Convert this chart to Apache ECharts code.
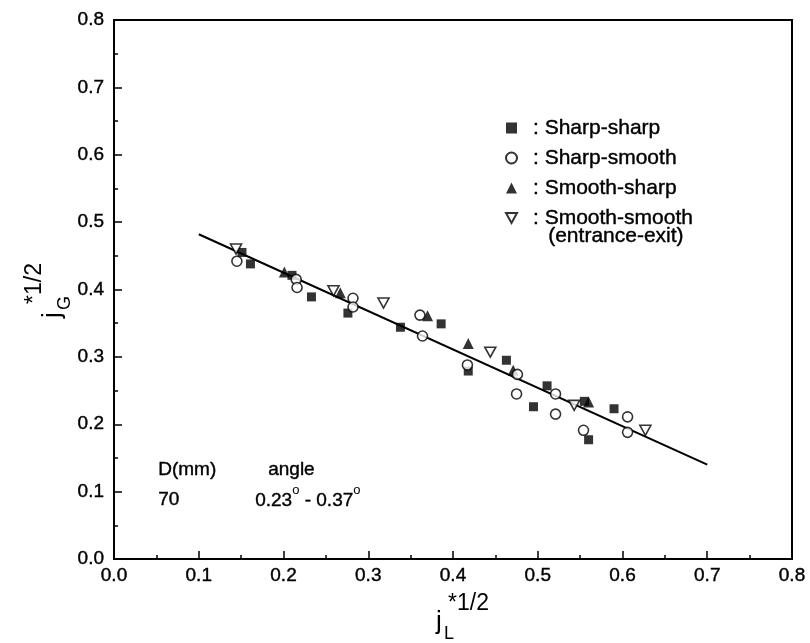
<!DOCTYPE html>
<html>
<head>
<meta charset="utf-8">
<script src="https://cdn.jsdelivr.net/npm/echarts/dist/echarts.min.js"></script>
<style>
html,body{margin:0;padding:0;background:#fff;}
#chart{width:810px;height:643px;}
</style>
</head>
<body>
<div id="chart"></div>
<script>
// ---- data ----
const seriesNames = ['Sharp-sharp', 'Sharp-smooth', 'Smooth-sharp', 'Smooth-smooth'];

const sharpSharpX = [0.151, 0.161, 0.210, 0.233, 0.276, 0.338, 0.386, 0.418, 0.463, 0.495, 0.511, 0.555, 0.560, 0.590];
const sharpSharpY = [0.455, 0.438, 0.421, 0.389, 0.365, 0.344, 0.349, 0.279, 0.295, 0.226, 0.257, 0.234, 0.177, 0.223];

const sharpSmoothX = [0.145, 0.215, 0.216, 0.282, 0.282, 0.361, 0.364, 0.417, 0.475, 0.476, 0.521, 0.521, 0.554, 0.606, 0.606];
const sharpSmoothY = [0.442, 0.415, 0.403, 0.387, 0.374, 0.362, 0.331, 0.288, 0.245, 0.274, 0.245, 0.215, 0.191, 0.211, 0.188];

const smoothSharpX = [0.201, 0.267, 0.370, 0.418, 0.471, 0.560];
const smoothSharpY = [0.426, 0.395, 0.361, 0.320, 0.280, 0.233];

const smoothSmoothX = [0.144, 0.259, 0.318, 0.444, 0.543, 0.627];
const smoothSmoothY = [0.460, 0.398, 0.380, 0.307, 0.228, 0.191];

const fitLineX = [0.1, 0.7];
const fitLineY = [0.482, 0.140];

const xTicks = [0.0, 0.1, 0.2, 0.3, 0.4, 0.5, 0.6, 0.7, 0.8];
const yTicks = [0.0, 0.1, 0.2, 0.3, 0.4, 0.5, 0.6, 0.7, 0.8];

// ---- build ----
function pairs(xs, ys) { return xs.map((x, i) => [x, ys[i]]); }

const FONT = '"Liberation Sans", Arial, sans-serif';
const downTri = 'path://M0,0 L10,0 L5,9 Z';

const chart = echarts.init(document.getElementById('chart'), null, {renderer: 'canvas'});

const labelStyle = {color: '#000', fontSize: 19, fontFamily: FONT, formatter: v => v.toFixed(1),
  textBorderColor: '#000', textBorderWidth: 0.4};

const option = {
  backgroundColor: '#fff',
  animation: false,
  grid: {left: 114, right: 18, top: 20, bottom: 84, show: true, borderColor: '#000', borderWidth: 2, backgroundColor: 'transparent'},
  xAxis: {
    type: 'value', min: xTicks[0], max: xTicks[xTicks.length - 1], interval: 0.1,
    axisLine: {show: true, onZero: false, lineStyle: {color: '#000', width: 2}},
    axisTick: {show: true, inside: true, length: 8, lineStyle: {color: '#000', width: 1.5}},
    minorTick: {show: true, splitNumber: 2, length: 4, lineStyle: {color: '#000', width: 1.5}},
    splitLine: {show: false},
    axisLabel: Object.assign({}, labelStyle, {margin: 7})
  },
  yAxis: {
    type: 'value', min: yTicks[0], max: yTicks[yTicks.length - 1], interval: 0.1,
    axisLine: {show: true, onZero: false, lineStyle: {color: '#000', width: 2}},
    axisTick: {show: true, inside: true, length: 8, lineStyle: {color: '#000', width: 1.5}},
    minorTick: {show: true, splitNumber: 2, length: 4, lineStyle: {color: '#000', width: 1.5}},
    splitLine: {show: false},
    axisLabel: Object.assign({}, labelStyle, {margin: 10})
  },
  legend: {
    orient: 'vertical', left: 500, top: 111,
    data: seriesNames,
    itemWidth: 11, itemHeight: 11, itemGap: 6,
    formatter: n => ': ' + n,
    textStyle: {color: '#000', fontSize: 21, fontFamily: FONT, lineHeight: 24, padding: [0, 0, 0, 11],
      textBorderColor: '#000', textBorderWidth: 0.4},
    inactiveColor: '#000'
  },
  series: [
    {name: seriesNames[0], type: 'scatter', symbol: 'rect', symbolSize: 9,
     itemStyle: {color: '#000'}, data: pairs(sharpSharpX, sharpSharpY), z: 3},
    {name: seriesNames[1], type: 'scatter', symbol: 'circle', symbolSize: 10,
     itemStyle: {color: '#fff', borderColor: '#000', borderWidth: 1.6}, data: pairs(sharpSmoothX, sharpSmoothY), z: 4},
    {name: seriesNames[2], type: 'scatter', symbol: 'triangle', symbolSize: 11,
     itemStyle: {color: '#000'}, data: pairs(smoothSharpX, smoothSharpY), z: 3},
    {name: seriesNames[3], type: 'scatter', symbol: downTri, symbolSize: [11, 10],
     itemStyle: {color: '#fff', borderColor: '#000', borderWidth: 1.6}, data: pairs(smoothSmoothX, smoothSmoothY), z: 4},
    {name: 'fit', type: 'line', symbol: 'none', data: pairs(fitLineX, fitLineY),
     lineStyle: {color: '#000', width: 2}, z: 2}
  ],
  graphic: [
    {type: 'text', left: 548, top: 226, style: {text: '(entrance-exit)', fill: '#000', font: '21px ' + FONT, stroke: '#000', lineWidth: 0.4}},
    {type: 'text', left: 158, top: 460, style: {text: 'D(mm)', fill: '#000', font: '19px ' + FONT, stroke: '#000', lineWidth: 0.4}},
    {type: 'text', left: 268, top: 460, style: {text: 'angle', fill: '#000', font: '19px ' + FONT, stroke: '#000', lineWidth: 0.4}},
    {type: 'text', left: 158, top: 490, style: {text: '70', fill: '#000', font: '19px ' + FONT, stroke: '#000', lineWidth: 0.4}},
    {type: 'text', left: 255, top: 484, style: {
      text: '{a|0.23}{s|o}{a| - 0.37}{s|o}',
      rich: {a: {fontSize: 19, fontFamily: FONT, fill: '#000', stroke: '#000', lineWidth: 0.4, verticalAlign: 'bottom', lineHeight: 26},
             s: {fontSize: 13, fontFamily: FONT, fill: '#000', verticalAlign: 'top', lineHeight: 26}}
    }},
    // x axis title j_L^{*1/2}
    {type: 'group', x: 436, y: 609, children: [
      {type: 'text', x: 0, y: 0, style: {text: 'j', fill: '#000', font: '26px ' + FONT}},
      {type: 'text', x: 8, y: 16, style: {text: 'L', fill: '#000', font: '18px ' + FONT}},
      {type: 'text', x: 12, y: -17, style: {text: '*1/2', fill: '#000', font: '23px ' + FONT}}
    ]},
    // y axis title j_G^{*1/2}
    {type: 'group', x: 40, y: 318, rotation: Math.PI / 2, children: [
      {type: 'text', x: 0, y: 0, style: {text: 'j', fill: '#000', font: '26px ' + FONT}},
      {type: 'text', x: 8, y: 16, style: {text: 'G', fill: '#000', font: '18px ' + FONT}},
      {type: 'text', x: 14, y: -17, style: {text: '*1/2', fill: '#000', font: '23px ' + FONT}}
    ]}
  ]
};

chart.setOption(option);
</script>
</body>
</html>
